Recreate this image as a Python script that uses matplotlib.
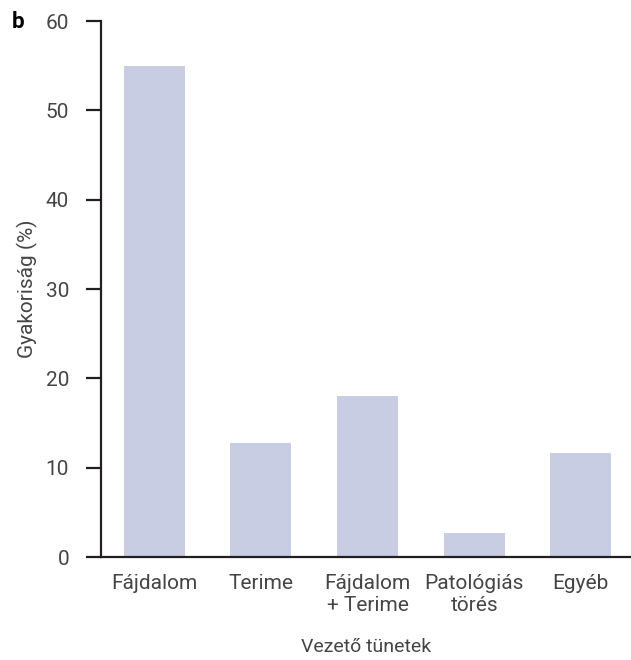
import matplotlib.pyplot as plt

# Leading symptoms and their frequency (%)
categories = ['Fájdalom', 'Terime', 'Fájdalom\n+ Terime', 'Patológiás\ntörés', 'Egyéb']
values = [55.0, 12.8, 18.0, 2.7, 11.6]
yticks = [0, 10, 20, 30, 40, 50, 60]

plt.rcParams['font.family'] = ['Roboto', 'DejaVu Sans']
text_color = '#454545'
axis_color = '#231f20'

fig = plt.figure(figsize=(6.31, 6.6), dpi=100)
ax = fig.add_axes([0.160, 0.156, 0.840, 0.812])

x = range(len(categories))
ax.bar(x, values, width=0.573, color='#c9cde3')

ax.set_xlim(-0.5, 4.47)
ax.set_ylim(0, 60)
ax.set_yticks(yticks)
ax.set_xticks(list(x))
ax.set_xticklabels(categories, linespacing=1.2)

for side in ['top', 'right']:
    ax.spines[side].set_visible(False)
for side in ['left', 'bottom']:
    ax.spines[side].set_color(axis_color)
    ax.spines[side].set_linewidth(1.6)

ax.tick_params(axis='y', direction='out', length=11, width=1.6, color=axis_color,
               labelsize=15, labelcolor=text_color, pad=12)
ax.tick_params(axis='x', length=0, labelsize=15, labelcolor=text_color, pad=12)

ax.set_ylabel('Gyakoriság (%)', fontsize=15, color=text_color)
ax.yaxis.set_label_coords(-0.118, 0.5)
ax.set_xlabel('Vezető tünetek', fontsize=14, color=text_color, labelpad=17)

fig.text(0.019, 0.966, 'b', fontsize=16, fontweight='bold', color='#000000', va='center')

fig.savefig('out.png', dpi=100)
